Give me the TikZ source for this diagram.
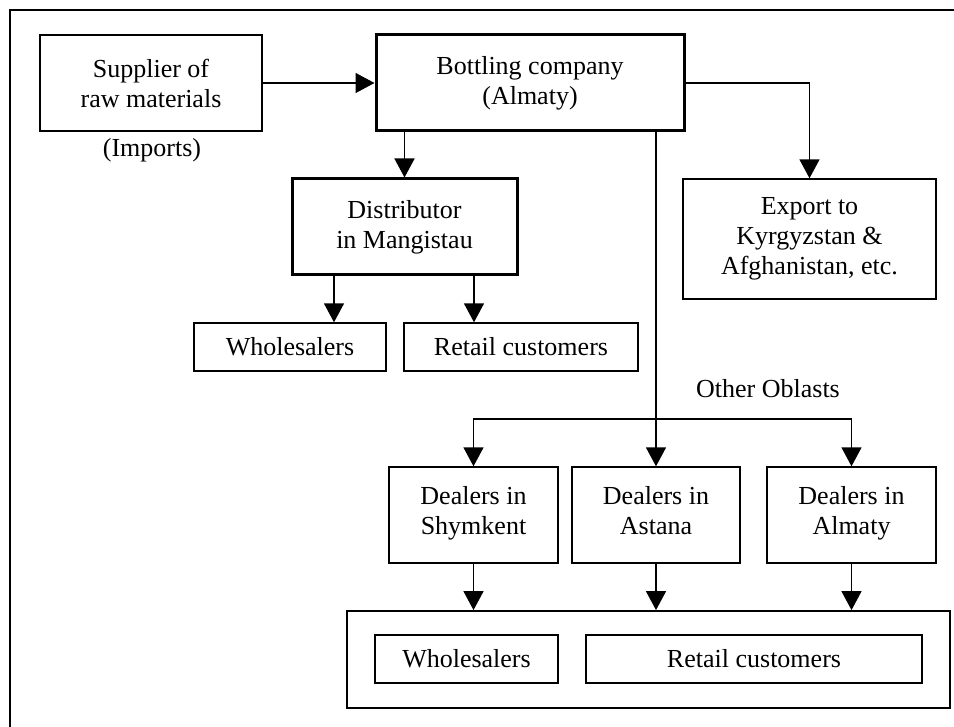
\documentclass[tikz,border=0pt]{standalone}
\usepackage{fontspec}
\setmainfont{Liberation Serif}
\usetikzlibrary{arrows.meta}
\begin{document}
\begin{tikzpicture}[x=1pt,y=-1pt,
  every node/.style={font=\fontsize{26}{30}\selectfont, inner sep=0pt},
  box/.style={draw, line width=1.4pt, align=center},
  thickbox/.style={draw, line width=3pt, align=center},
  arr/.style={line width=1.5pt, -{Triangle[length=19pt,width=20pt]}}]
\useasboundingbox (0,0) rectangle (954,727);
\draw[line width=2.2pt] (10,740) -- (10,10) -- (960,10);
% top row
\node[box, minimum width=222pt, minimum height=96pt] (sup) at (151,83) {Supplier of\\raw materials};
\node (imp) at (152,150) {(Imports)};
\node[thickbox, minimum width=308pt, minimum height=96pt] (bot) at (530,83) {Bottling company\\(Almaty)};
\node[thickbox, minimum width=225pt, minimum height=96pt] (dist) at (404.5,227) {Distributor\\in Mangistau};
\node[box, minimum width=192pt, minimum height=48pt] (w1) at (290,347) {Wholesalers};
\node[box, minimum width=234pt, minimum height=48pt] (r1) at (521,347) {Retail customers};
\node[box, minimum width=253pt, minimum height=120pt] (exp) at (809.5,239) {Export to\\Kyrgyzstan \&\\Afghanistan, etc.};
% dealers
\node (obl) at (768,389) {Other Oblasts};
\node[box, minimum width=169pt, minimum height=96pt] (shy) at (473.5,515) {Dealers in\\Shymkent\strut};
\node[box, minimum width=168pt, minimum height=96pt] (ast) at (656,515) {Dealers in\\Astana\strut};
\node[box, minimum width=169pt, minimum height=96pt] (alm) at (851.5,515) {Dealers in\\Almaty\strut};
\node[box, line width=1.8pt, minimum width=603pt, minimum height=97pt] (out) at (648.5,659.5) {};
\node[box, minimum width=183pt, minimum height=48pt] (w2) at (466.5,659) {Wholesalers};
\node[box, minimum width=336pt, minimum height=48pt] (r2) at (754,659) {Retail customers};
% connectors
\draw[arr] (sup) -- (bot);
\draw[arr] (bot.south -| dist.north) -- (dist.north);
\draw[arr] ([xshift=-70.5pt]dist.south) -- ([xshift=-70.5pt]dist.south |- w1.north);
\draw[arr] ([xshift=69.5pt]dist.south) -- ([xshift=69.5pt]dist.south |- r1.north);
\draw[arr] (bot.east) -| (exp.north);
\coordinate (j) at (656,419);
\draw[arr] (bot.south -| ast.north) -- (ast.north);
\draw[arr] (j) -| (shy.north);
\draw[arr] (j) -| (alm.north);
\draw[arr] (shy.south) -- (shy.south |- out.north);
\draw[arr] (ast.south) -- (ast.south |- out.north);
\draw[arr] (alm.south) -- (alm.south |- out.north);
\end{tikzpicture}
\end{document}
